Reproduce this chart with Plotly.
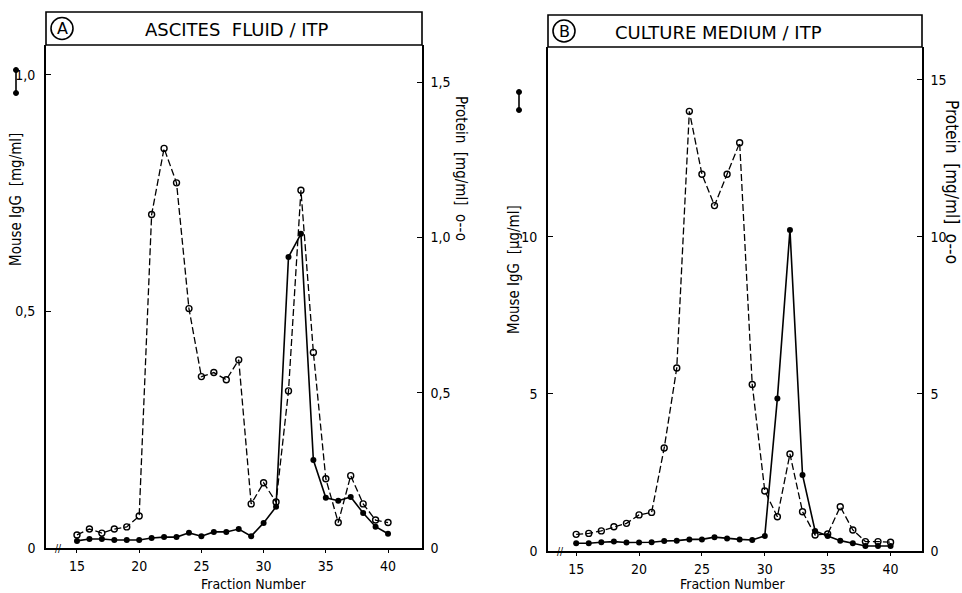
import plotly.graph_objects as go

W, H = 962, 593
H_EFF = 585  # observed effective drawing height of the page

fractions = list(range(15, 41))
igg_a = [0.015, 0.019, 0.019, 0.017, 0.017, 0.017, 0.021, 0.023, 0.023, 0.032, 0.025, 0.034, 0.034,
         0.040, 0.025, 0.053, 0.087, 0.615, 0.664, 0.186, 0.106, 0.100, 0.108, 0.074, 0.045, 0.030]
protein_a = [0.042, 0.061, 0.048, 0.061, 0.068, 0.103, 1.074, 1.287, 1.176, 0.771, 0.552, 0.565, 0.542,
             0.606, 0.142, 0.210, 0.148, 0.506, 1.152, 0.630, 0.223, 0.082, 0.233, 0.142, 0.090, 0.082]
igg_b = [0.245, 0.245, 0.28, 0.30, 0.27, 0.27, 0.28, 0.32, 0.33, 0.37, 0.37, 0.44, 0.40,
         0.37, 0.35, 0.48, 4.86, 10.22, 2.42, 0.64, 0.48, 0.33, 0.245, 0.16, 0.16, 0.16]
protein_b = [0.53, 0.56, 0.64, 0.77, 0.88, 1.15, 1.23, 3.28, 5.83, 14.0, 12.0, 11.0, 12.0,
             13.0, 5.3, 1.91, 1.09, 3.09, 1.25, 0.51, 0.54, 1.41, 0.67, 0.30, 0.30, 0.28]

x_ticks = [15, 20, 25, 30, 35, 40]
a_left_ticks = [0, 0.5, 1.0]
a_left_text = ["0", "0,5", "1,0"]
a_right_ticks = [0, 0.5, 1.0, 1.5]
a_right_text = ["0", "0,5", "1,0", "1,5"]
b_left_ticks = [0, 5, 10]
b_left_text = ["0", "5", "10"]
b_right_ticks = [0, 5, 10, 15]
b_right_text = ["0", "5", "10", "15"]

title_a = "ASCITES  FLUID / ITP"
title_b = "CULTURE MEDIUM / ITP"

FONT = "DejaVu Sans Condensed, Liberation Sans Narrow, DejaVu Sans, sans-serif"
TFONT = "DejaVu Sans, sans-serif"


def px(x):
    return x / W


def py(y):
    return 1 - y / H_EFF


# panel geometry (pixels)
A = dict(l=46, r=422, t=45, b=548, tt=12)
B = dict(l=548, r=922, t=47, b=551, tt=15)

fig = go.Figure()

igg_style = dict(mode="lines+markers", line=dict(color="black", width=1.6),
                 marker=dict(symbol="circle", size=6, color="black"))
prot_style = dict(mode="lines+markers", line=dict(color="black", width=1.3, dash="7px,3px"),
                  marker=dict(symbol="circle-open", size=6, color="black", line=dict(width=1.4)))

fig.add_trace(go.Scatter(x=fractions, y=protein_a, xaxis="x", yaxis="y2", **prot_style))
fig.add_trace(go.Scatter(x=fractions, y=igg_a, xaxis="x", yaxis="y", **igg_style))
fig.add_trace(go.Scatter(x=fractions, y=protein_b, xaxis="x2", yaxis="y4", **prot_style))
fig.add_trace(go.Scatter(x=fractions, y=igg_b, xaxis="x2", yaxis="y3", **igg_style))

axis_common = dict(showgrid=False, zeroline=False, showline=True, linecolor="black", linewidth=1.6,
                   tickcolor="black", tickfont=dict(family=FONT, size=14, color="black"))

fig.update_layout(
    width=W, height=H, margin=dict(l=0, r=0, t=0, b=0),
    paper_bgcolor="white", plot_bgcolor="white", showlegend=False,
    xaxis=dict(domain=[px(A["l"]), px(A["r"])], range=[12.51, 42.73], anchor="y",
               tickvals=x_ticks, ticks="outside", ticklen=3, ticklabelstandoff=1, **axis_common),
    yaxis=dict(domain=[py(A["b"]), py(A["t"])], range=[0, 1.063], anchor="x",
               tickvals=a_left_ticks, ticktext=a_left_text, ticks="inside", ticklen=5,
               ticklabelstandoff=6, **axis_common),
    yaxis2=dict(domain=[py(A["b"]), py(A["t"])], range=[0, 1.62], anchor="x", overlaying="y", side="right",
                tickvals=a_right_ticks, ticktext=a_right_text, ticks="inside", ticklen=5,
                ticklabelstandoff=4, **axis_common),
    xaxis2=dict(domain=[px(B["l"]), px(B["r"])], range=[12.76, 42.5], anchor="y3",
                tickvals=x_ticks, ticks="outside", ticklen=3, ticklabelstandoff=1, **axis_common),
    yaxis3=dict(domain=[py(B["b"]), py(B["t"])], range=[0, 16.05], anchor="x2",
                tickvals=b_left_ticks, ticktext=b_left_text, ticks="inside", ticklen=5,
                ticklabelstandoff=6, **axis_common),
    yaxis4=dict(domain=[py(B["b"]), py(B["t"])], range=[0, 16.05], anchor="x2", overlaying="y3", side="right",
                tickvals=b_right_ticks, ticktext=b_right_text, ticks="inside", ticklen=5,
                ticklabelstandoff=4, **axis_common),
)

shapes = []
annotations = []
for P, title, letter, tcx, xtx in [(A, title_a, "A", 236, 254), (B, title_b, "B", 718, 733)]:
    # title box
    shapes.append(dict(type="rect", xref="paper", yref="paper",
                       x0=px(P["l"]), x1=px(P["r"]), y0=py(P["t"]), y1=py(P["tt"]),
                       line=dict(color="black", width=1.6)))
    cy = (P["t"] + P["tt"]) / 2
    cx = P["l"] + 16
    shapes.append(dict(type="circle", xref="paper", yref="paper",
                       x0=px(cx - 11), x1=px(cx + 11), y0=py(cy + 11), y1=py(cy - 11),
                       line=dict(color="black", width=1.6)))
    annotations.append(dict(text=letter, xref="paper", yref="paper", x=px(cx), y=py(cy),
                            showarrow=False, xanchor="center", yanchor="middle",
                            font=dict(family=TFONT, size=16, color="black")))
    annotations.append(dict(text=title, xref="paper", yref="paper", x=px(tcx), y=py(cy + 1),
                            showarrow=False, xanchor="center", yanchor="middle",
                            font=dict(family=TFONT, size=18, color="black")))
    # axis-break mark
    annotations.append(dict(text="//", xref="paper", yref="paper", x=px(P["l"] + 12), y=py(P["b"]),
                            showarrow=False, xanchor="center", yanchor="middle",
                            font=dict(family=FONT, size=10, color="black")))
    # x title
    annotations.append(dict(text="Fraction Number", xref="paper", yref="paper",
                            x=px(xtx), y=py(min(P["b"] + 36, 584)),
                            showarrow=False, xanchor="center", yanchor="middle",
                            font=dict(family=FONT, size=14, color="black")))

# y titles
annotations += [
    dict(text="Mouse IgG  [mg/ml]", xref="paper", yref="paper", x=px(16), y=py(200), textangle=-90,
         showarrow=False, xanchor="center", yanchor="middle", font=dict(family=FONT, size=15, color="black")),
    dict(text="Protein  [mg/ml]  o--o", xref="paper", yref="paper", x=px(461), y=py(168), textangle=90,
         showarrow=False, xanchor="center", yanchor="middle", font=dict(family=FONT, size=15, color="black")),
    dict(text="Mouse IgG  [µg/ml]", xref="paper", yref="paper", x=px(514), y=py(270), textangle=-90,
         showarrow=False, xanchor="center", yanchor="middle", font=dict(family=FONT, size=15, color="black")),
    dict(text="Protein  [mg/ml]  o--o", xref="paper", yref="paper", x=px(952), y=py(182), textangle=90,
         showarrow=False, xanchor="center", yanchor="middle", font=dict(family=FONT, size=17, color="black")),
]

# IgG legend glyphs (solid line with filled dots)
for gx, gy0, gy1 in [(16, 70, 93), (519, 92, 110)]:
    shapes.append(dict(type="line", xref="paper", yref="paper", x0=px(gx), x1=px(gx), y0=py(gy0), y1=py(gy1),
                       line=dict(color="black", width=1.6)))
    for gy in (gy0, gy1):
        shapes.append(dict(type="circle", xref="paper", yref="paper", x0=px(gx - 2.5), x1=px(gx + 2.5),
                           y0=py(gy + 2.5), y1=py(gy - 2.5), fillcolor="black", line=dict(color="black", width=1)))

fig.update_layout(shapes=shapes, annotations=annotations)
fig.write_html("out.html")
